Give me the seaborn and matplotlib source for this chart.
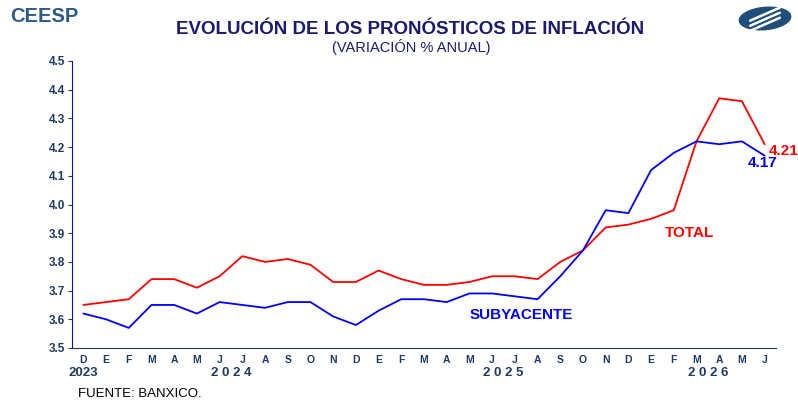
import numpy as np
import pandas as pd
import seaborn as sns
import matplotlib.pyplot as plt
from matplotlib.patches import Ellipse

months = ["D", "E", "F", "M", "A", "M", "J", "J", "A", "S", "O", "N",
          "D", "E", "F", "M", "A", "M", "J", "J", "A", "S", "O", "N",
          "D", "E", "F", "M", "A", "M", "J"]
total = [3.65, 3.66, 3.67, 3.74, 3.74, 3.71, 3.75, 3.82, 3.80, 3.81, 3.79, 3.73,
         3.73, 3.77, 3.74, 3.72, 3.72, 3.73, 3.75, 3.75, 3.74, 3.80, 3.84, 3.92,
         3.93, 3.95, 3.98, 4.22, 4.37, 4.36, 4.21]
subyacente = [3.62, 3.60, 3.57, 3.65, 3.65, 3.62, 3.66, 3.65, 3.64, 3.66, 3.66, 3.61,
              3.58, 3.63, 3.67, 3.67, 3.66, 3.69, 3.69, 3.68, 3.67, 3.75, 3.84, 3.98,
              3.97, 4.12, 4.18, 4.22, 4.21, 4.22, 4.17]
years = ["2023", "2 0 2 4", "2 0 2 5", "2 0 2 6"]
year_pos = [0, 6.5, 18.5, 27.5]

df = pd.DataFrame({"idx": range(len(months)), "TOTAL": total, "SUBYACENTE": subyacente})
long = df.melt(id_vars="idx", var_name="serie", value_name="valor")

sns.set_style("white")
plt.rcParams['font.family'] = ['Liberation Sans', 'DejaVu Sans']
navy = "#1f3a60"

fig = plt.figure(figsize=(7.98, 4.0), dpi=100)
ax = fig.add_axes([72 / 798, 1 - 348 / 400, (776 - 72) / 798, (348 - 61) / 400])

sns.lineplot(data=long, x="idx", y="valor", hue="serie",
             palette={"TOTAL": "#ff0000", "SUBYACENTE": "#0000ff"},
             linewidth=1.3, legend=False, ax=ax)

ax.set_xlim(-0.5, len(months) - 0.5)
ax.set_ylim(3.5, 4.5)
ax.set_yticks(np.arange(3.5, 4.51, 0.1))
ax.set_yticklabels([f"{v:.1f}" for v in np.arange(3.5, 4.51, 0.1)],
                   fontsize=8.5, fontweight="bold", color=navy)
ax.set_xticks(range(len(months)))
ax.set_xticklabels(months, fontsize=7.5, fontweight="bold", color=navy)
ax.set_xticks(np.arange(-0.5, len(months), 1), minor=True)
ax.tick_params(axis="x", which="major", length=0, pad=5)
ax.tick_params(axis="x", which="minor", length=3, color=navy, direction="out")
ax.tick_params(axis="y", length=3, color=navy, direction="out", pad=2, left=True)
ax.set_xlabel("")
ax.set_ylabel("")
for s in ["top", "right"]:
    ax.spines[s].set_visible(False)
ax.spines["left"].set_color("#1010a0")
ax.spines["bottom"].set_color(navy)

for y, p in zip(years, year_pos):
    ax.text(p, -0.097, y, transform=ax.get_xaxis_transform(), ha="center", va="baseline",
            fontsize=9.5, fontweight="bold", color=navy)

ax.text(25.6, 3.90, "TOTAL", color="#ff0000", fontsize=11, fontweight="bold", va="center")
ax.text(17.0, 3.615, "SUBYACENTE", color="#0000ff", fontsize=11, fontweight="bold", va="center")
ax.text(30.2, 4.186, "4.21", color="#ff0000", fontsize=11, fontweight="bold", va="center")
ax.text(30.55, 4.145, "4.17", color="#0000ff", fontsize=11, fontweight="bold", va="center", ha="right")

fig.text(410 / 798, 1 - 30 / 400, "EVOLUCIÓN DE LOS PRONÓSTICOS DE INFLACIÓN",
         ha="center", va="center", fontsize=13.5, fontweight="bold", color="#1a1a6e")
fig.text(411 / 798, 1 - 47 / 400, "(VARIACIÓN % ANUAL)",
         ha="center", va="center", fontsize=10.5, color="#1a1a6e")
fig.text(10 / 798, 1 - 17 / 400, "CEESP", ha="left", va="center",
         fontsize=14.5, fontweight="bold", color="#2e5a87")
fig.text(78 / 798, 1 - 394 / 400, "FUENTE: BANXICO.", ha="left", va="center",
         fontsize=9.5, color="black")

# logo
lax = fig.add_axes([738 / 798, 1 - 33 / 400, 54 / 798, 29 / 400])
lax.set_xlim(-1, 1)
lax.set_ylim(-1, 1)
lax.axis("off")
lax.add_patch(Ellipse((0, 0), 1.95, 1.5, angle=20, color="#1f4e79"))
for off in [-0.3, 0.05, 0.4]:
    lax.plot([-0.55, 0.55], [-0.55 + off, 0.35 + off], color="white", linewidth=1.8)

fig.savefig("out.png", dpi=100)
